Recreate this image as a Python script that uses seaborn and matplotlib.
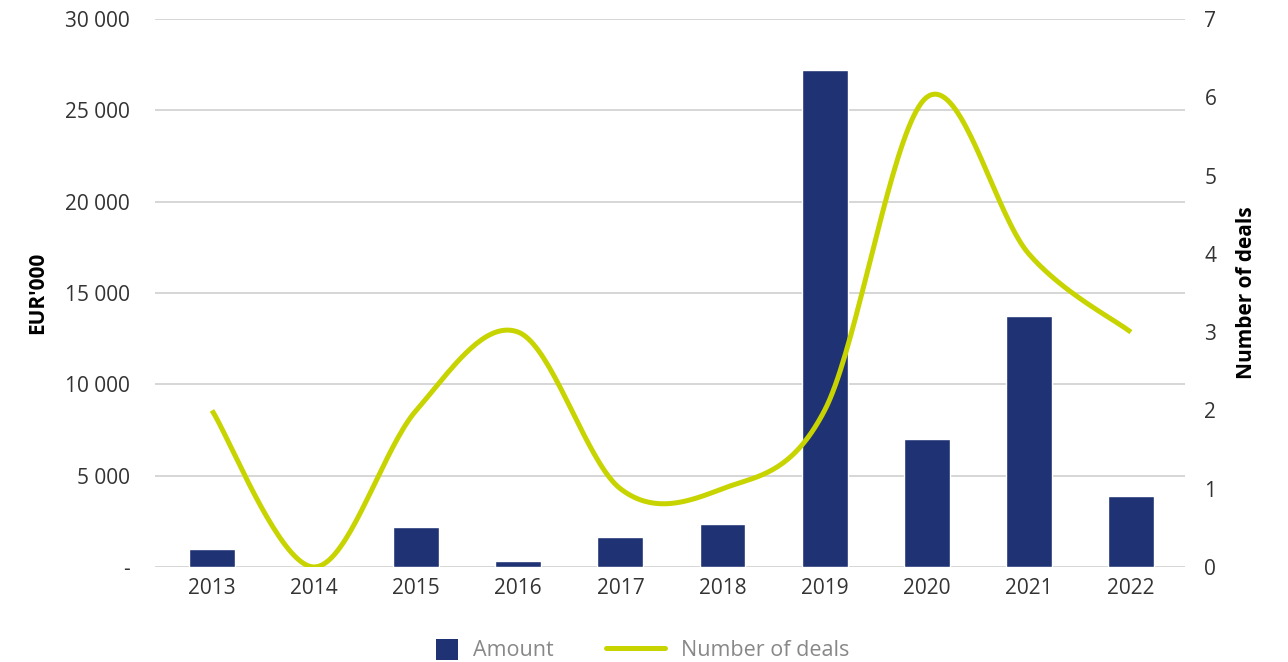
import numpy as np
import pandas as pd
import matplotlib
matplotlib.use("Agg")
import matplotlib.pyplot as plt
from matplotlib.ticker import FuncFormatter, MultipleLocator
from matplotlib.patches import Patch
from matplotlib.lines import Line2D
import seaborn as sns

years = ["2013", "2014", "2015", "2016", "2017", "2018", "2019", "2020", "2021", "2022"]
amount = [1000, 0, 2200, 320, 1650, 2350, 27200, 7000, 13750, 3900]
deals = [2, 0, 2, 3, 1, 1, 2, 6, 4, 3]

BAR_COLOR = "#1f3274"
LINE_COLOR = "#c8d400"
TEXT_COLOR = "#333333"
FS = 15

sns.set_theme(style="white")
plt.rcParams['font.family'] = ['Open Sans', 'DejaVu Sans']

fig = plt.figure(figsize=(12.88, 6.62), dpi=100)
ax = fig.add_axes([155 / 1288, 95 / 662, 1030 / 1288, 548 / 662])

df = pd.DataFrame({"year": years, "amount": amount, "deals": deals})
sns.barplot(data=df, x="year", y="amount", color=BAR_COLOR, width=0.45,
            saturation=1, ax=ax, zorder=3)

ax.set_ylim(0, 30000)
ax.set_xlim(-0.558, 9.53)
ax.yaxis.set_major_locator(MultipleLocator(5000))
ax.yaxis.set_major_formatter(FuncFormatter(
    lambda v, p: "-" if v == 0 else f"{int(v):,}".replace(",", " ")))
ax.grid(axis="y", color="#d0d0d0", linewidth=1.2, zorder=0)
ax.set_axisbelow(True)
for s in ax.spines.values():
    s.set_visible(False)
ax.tick_params(axis="both", length=0, labelsize=FS, labelcolor=TEXT_COLOR)
ax.tick_params(axis="y", pad=18)
ax.tick_params(axis="x", pad=8)
ax.set_xlabel("")
ax.set_ylabel("EUR'000", fontsize=FS, fontweight="bold", color="black", labelpad=12)


def smooth(xs, ys, n=40):
    # Catmull-Rom style bezier smoothing (like spreadsheet "smoothed line")
    xs = np.asarray(xs, float)
    ys = np.asarray(ys, float)
    px = np.concatenate([[xs[0]], xs, [xs[-1]]])
    py = np.concatenate([[ys[0]], ys, [ys[-1]]])
    outx, outy = [], []
    for i in range(1, len(px) - 2):
        p0 = np.array([px[i - 1], py[i - 1]])
        p1 = np.array([px[i], py[i]])
        p2 = np.array([px[i + 1], py[i + 1]])
        p3 = np.array([px[i + 2], py[i + 2]])
        c1 = p1 + (p2 - p0) / 6
        c2 = p2 - (p3 - p1) / 6
        t = np.linspace(0, 1, n)[:, None]
        b = ((1 - t) ** 3) * p1 + 3 * ((1 - t) ** 2) * t * c1 + 3 * (1 - t) * t ** 2 * c2 + t ** 3 * p2
        outx.extend(b[:, 0])
        outy.extend(b[:, 1])
    return np.array(outx), np.array(outy)


ax2 = ax.twinx()
sx, sy = smooth(np.arange(len(years)), deals)
ax2.plot(sx, sy, color=LINE_COLOR, linewidth=3.6, solid_capstyle="butt", zorder=4)
ax2.set_ylim(0, 7)
ax2.yaxis.set_major_locator(MultipleLocator(1))
for s in ax2.spines.values():
    s.set_visible(False)
ax2.grid(False)
ax2.tick_params(axis="y", length=0, labelsize=FS, labelcolor=TEXT_COLOR, pad=14)
ax2.set_ylabel("Number of deals", fontsize=FS, fontweight="bold", color="black", labelpad=14)

LFS = 15.5
px_per_fs = LFS * 100 / 72
leg1 = fig.legend([Patch(facecolor=BAR_COLOR, edgecolor="none")], ["Amount"],
                  loc="center left", bbox_to_anchor=(436 / 1288, 12 / 662),
                  frameon=False, fontsize=LFS, borderpad=0, borderaxespad=0,
                  handlelength=22 / px_per_fs, handleheight=24 / px_per_fs,
                  handletextpad=15 / px_per_fs)
leg2 = fig.legend([Line2D([0], [0], color=LINE_COLOR, linewidth=3.6, solid_capstyle="round")],
                  ["Number of deals"],
                  loc="center left", bbox_to_anchor=(606 / 1288, 12 / 662),
                  frameon=False, fontsize=LFS, borderpad=0, borderaxespad=0,
                  handlelength=59 / px_per_fs, handletextpad=16 / px_per_fs)
for lg in (leg1, leg2):
    for t in lg.get_texts():
        t.set_color("#888888")

fig.savefig("out.png", dpi=100)
